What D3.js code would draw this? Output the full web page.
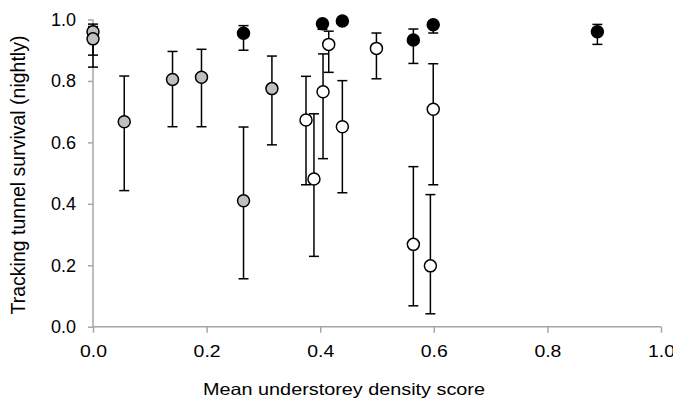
<!DOCTYPE html>
<html>
<head>
<meta charset="utf-8">
<script src="https://cdn.jsdelivr.net/npm/d3@7"></script>
<style>
  body { margin: 0; background: #fff; }
  svg { display: block; font-family: "Liberation Sans", Arial, sans-serif; }
</style>
</head>
<body>
<svg id="chart" width="673" height="399"></svg>
<script>
// Data (x = density score, y = survival, lo/hi = error bar ends)
const xVals = [0.000, 0.000, 0.055, 0.140, 0.191, 0.265, 0.315, 0.265,
  0.404, 0.439, 0.564, 0.599, 0.888,
  0.415, 0.499, 0.599, 0.405, 0.375, 0.389, 0.439, 0.564, 0.594];
const yVals = [0.960, 0.937, 0.667, 0.805, 0.812, 0.410, 0.775, 0.955,
  0.986, 0.995, 0.933, 0.983, 0.960,
  0.919, 0.906, 0.708, 0.765, 0.673, 0.481, 0.651, 0.268, 0.198];
const loVals = [0.884, 0.845, 0.443, 0.651, 0.651, 0.156, 0.592, 0.900,
  0.968, 0.995, 0.857, 0.956, 0.919,
  0.828, 0.807, 0.462, 0.547, 0.462, 0.229, 0.436, 0.068, 0.042];
const hiVals = [0.985, 0.977, 0.816, 0.896, 0.903, 0.650, 0.881, 0.980,
  0.986, 0.995, 0.969, 0.990, 0.984,
  0.962, 0.956, 0.856, 0.888, 0.815, 0.693, 0.801, 0.521, 0.430];
const groupOf = ['gray', 'gray', 'gray', 'gray', 'gray', 'gray', 'gray', 'black',
  'black', 'black', 'black', 'black', 'black',
  'white', 'white', 'white', 'white', 'white', 'white', 'white', 'white', 'white'];
const xTicks = [0, 0.2, 0.4, 0.6, 0.8, 1.0];
const yTicks = [0, 0.2, 0.4, 0.6, 0.8, 1.0];

const fills = { gray: '#bfbfbf', black: '#000000', white: '#ffffff' };

const LEFT = 93, RIGHT = 661, TOP = 19.5, BOTTOM = 326.7;

const svg = d3.select('#chart');
const x = d3.scaleLinear([0, 1], [LEFT, RIGHT]);
const y = d3.scaleLinear([0, 1], [BOTTOM, TOP]);

const data = xVals.map((d, i) => ({
  x: d, y: yVals[i], lo: loVals[i], hi: hiVals[i], g: groupOf[i],
}));

// Axes
const xAxis = svg.append('g')
  .attr('transform', `translate(0,${BOTTOM})`)
  .call(d3.axisBottom(x).tickValues(xTicks).tickFormat(d3.format('.1f')).tickSize(6));
const yAxis = svg.append('g')
  .attr('transform', `translate(${LEFT},0)`)
  .call(d3.axisLeft(y).tickValues(yTicks).tickFormat(d3.format('.1f')).tickSize(5).tickPadding(12));

[xAxis, yAxis].forEach((ax) => {
  ax.select('.domain').attr('stroke', '#a6a6a6').attr('stroke-width', 1.5);
  ax.selectAll('.tick line').attr('stroke', '#a6a6a6').attr('stroke-width', 1.5);
  ax.selectAll('.tick text').attr('fill', '#000');
});
xAxis.select('.domain').attr('d', `M${LEFT},0H${RIGHT}`);
yAxis.select('.domain').attr('d', `M0,${BOTTOM}V${TOP}`);

// x tick labels are a bit wide in the reference
xAxis.selectAll('.tick text')
  .attr('y', 30).attr('dy', null)
  .style('font-size', '16.5px')
  .attr('textLength', 27).attr('lengthAdjust', 'spacingAndGlyphs');
yAxis.selectAll('.tick text').style('font-size', '18px');

// Axis titles
svg.append('text')
  .attr('x', 344)
  .attr('y', 395)
  .attr('text-anchor', 'middle')
  .style('font-size', '16.5px')
  .attr('textLength', 282).attr('lengthAdjust', 'spacingAndGlyphs')
  .text('Mean understorey density score');

svg.append('text')
  .attr('transform', 'translate(25,175) rotate(-90)')
  .attr('text-anchor', 'middle')
  .style('font-size', '19.5px')
  .text('Tracking tunnel survival (nightly)');

// Error bars
const bars = svg.append('g').attr('stroke', '#000').attr('stroke-width', 1.5);
data.forEach((d) => {
  const cx = x(d.x);
  if (d.hi - d.lo < 0.001) return;
  bars.append('line').attr('x1', cx).attr('x2', cx).attr('y1', y(d.lo)).attr('y2', y(d.hi));
  bars.append('line').attr('x1', cx - 5).attr('x2', cx + 5).attr('y1', y(d.lo)).attr('y2', y(d.lo));
  bars.append('line').attr('x1', cx - 5).attr('x2', cx + 5).attr('y1', y(d.hi)).attr('y2', y(d.hi));
});

// Points
svg.append('g')
  .selectAll('circle')
  .data(data)
  .join('circle')
  .attr('cx', (d) => x(d.x))
  .attr('cy', (d) => y(d.y))
  .attr('r', 6)
  .attr('fill', (d) => fills[d.g])
  .attr('stroke', '#000')
  .attr('stroke-width', 1.5);
</script>
</body>
</html>
